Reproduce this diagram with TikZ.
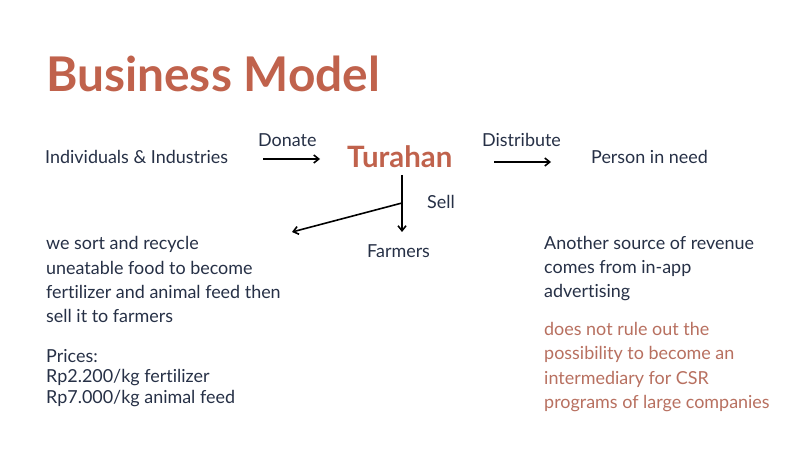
\documentclass[tikz,border=0pt]{standalone}
\usepackage{fontspec}
\setmainfont{Lato}[Ligatures={NoCommon}]
\usetikzlibrary{arrows.meta}
\definecolor{titlec}{RGB}{192,98,76}
\definecolor{bodyc}{RGB}{38,48,70}
\definecolor{pinkc}{RGB}{184,112,96}
\tikzset{
  body/.style={anchor=base west, inner sep=0pt, text=bodyc, font=\fontsize{18}{24.5}\selectfont, align=left},
  pink/.style={body, text=pinkc},
  flow/.style={draw=black, line width=1.6pt, -{Straight Barb[length=5pt,width=8pt]}}
}
\begin{document}
\begin{tikzpicture}[x=1bp,y=-1bp]
\path[fill=white] (0,0) rectangle (806,453);
\useasboundingbox (0,0) rectangle (806,453);
\node[anchor=base west, inner sep=0pt, text=titlec, font=\fontsize{48}{58}\selectfont\bfseries] (title) at (46,92) {Business Model};
\node[body] (ind) at (45,164) {Individuals \& Industries};
\node[body] (don) at (258,147) {Donate};
\node[anchor=base west, inner sep=0pt, text=titlec, font=\fontsize{29.5}{34}\selectfont\bfseries] (tur) at (347,168) {Turahan};
\node[body] (dis) at (482,147) {Distribute};
\node[body] (pin) at (591,164) {Person in need};
\node[body] (sell) at (427,209) {Sell};
\node[body] (farm) at (367,258) {Farmers};
\coordinate (d1) at (263,159);
\coordinate (d2) at (320,159);
\coordinate (e1) at (494,162);
\coordinate (e2) at (551,162);
\coordinate (v0) at (402,175);
\coordinate (vb) at (402,203);
\coordinate (v1) at (402,232);
\coordinate (bl) at (292,232);
\draw[flow] (d1) -- (d2);
\draw[flow] (e1) -- (e2);
\draw[flow] (v0) -- (v1);
\draw[flow] (vb) -- (bl);
\node[body] (left) at (46,323) {we sort and recycle\\uneatable food to become\\fertilizer and animal feed then\\sell it to farmers};
\node[body, font=\fontsize{18}{20.5}\selectfont] (prices) at (46,403) {Prices:\\Rp2.200/kg fertilizer\\Rp7.000/kg animal feed};
\node[body] (rev) at (544,298) {Another source of revenue\\comes from in-app\\advertising};
\node[pink] (csr) at (544,408.5) {does not rule out the\\possibility to become an\\intermediary for CSR\\programs of large companies};
\end{tikzpicture}
\end{document}
